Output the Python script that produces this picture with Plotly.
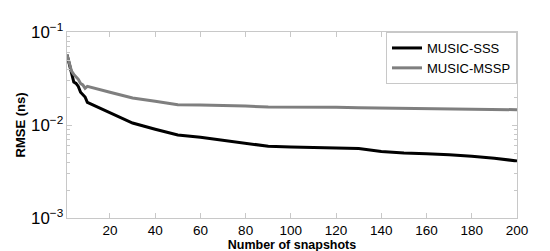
import plotly.graph_objects as go

# snapshot counts and RMSE values
snapshots = [1, 2, 3, 4, 5, 6, 7, 8, 9, 10,
             20, 30, 40, 50, 60, 70, 80, 90, 100, 110,
             120, 130, 140, 150, 160, 170, 180, 190, 200]
rmse_sss = [0.057, 0.045, 0.035, 0.029, 0.028, 0.026, 0.0225, 0.021, 0.020, 0.0175,
            0.0135, 0.0105, 0.0090, 0.0078, 0.0074, 0.0069, 0.0064, 0.0059, 0.0058, 0.0057,
            0.0056, 0.0056, 0.0052, 0.0050, 0.0049, 0.0048, 0.0046, 0.0044, 0.0041]
rmse_mssp = [0.057, 0.046, 0.038, 0.035, 0.033, 0.031, 0.028, 0.027, 0.0248, 0.026,
             0.0225, 0.0195, 0.0180, 0.0165, 0.0164, 0.0163, 0.0160, 0.0156, 0.0156, 0.0157,
             0.0155, 0.0153, 0.0152, 0.0151, 0.0150, 0.0150, 0.0148, 0.0147, 0.0146]
x_ticks = [20, 40, 60, 80, 100, 120, 140, 160, 180, 200]

fig = go.Figure()
fig.add_trace(go.Scatter(x=snapshots, y=rmse_sss, mode="lines", name="MUSIC-SSS",
                         line=dict(color="black", width=3)))
fig.add_trace(go.Scatter(x=snapshots, y=rmse_mssp, mode="lines", name="MUSIC-MSSP",
                         line=dict(color="#7f7f7f", width=3)))

axis_common = dict(showline=True, linecolor="#c8c8c8", linewidth=1, mirror="allticks",
                   ticks="inside", tickcolor="#c8c8c8", ticklen=5, showgrid=False,
                   zeroline=False, tickfont=dict(family="Liberation Sans", size=13.5, color="black"))

fig.update_xaxes(range=[1, 200], tickvals=x_ticks,
                 title=dict(text="<b>Number of snapshots</b>", standoff=0,
                            font=dict(family="Liberation Sans", size=12.5, color="black")),
                 **axis_common)
fig.update_yaxes(type="log", range=[-3, -1], dtick=1, exponentformat="power",
                 showexponent="all",
                 minor=dict(ticks="inside", ticklen=3, tickcolor="#c8c8c8",
                            dtick="D1", showgrid=False),
                 title=dict(text="<b>RMSE (ns)</b>", standoff=2,
                            font=dict(family="Liberation Sans", size=13, color="black")),
                 **axis_common)

fig.update_layout(
    width=550, height=251,
    margin=dict(l=44, r=41, t=14, b=33),
    plot_bgcolor="white", paper_bgcolor="white",
    legend=dict(x=1, y=1, xanchor="right", yanchor="top",
                bordercolor="#c8c8c8", borderwidth=1, bgcolor="white",
                font=dict(family="Liberation Sans", size=13, color="black"),
                itemwidth=30, tracegroupgap=0),
    showlegend=True,
)

fig.write_html("out.html")
